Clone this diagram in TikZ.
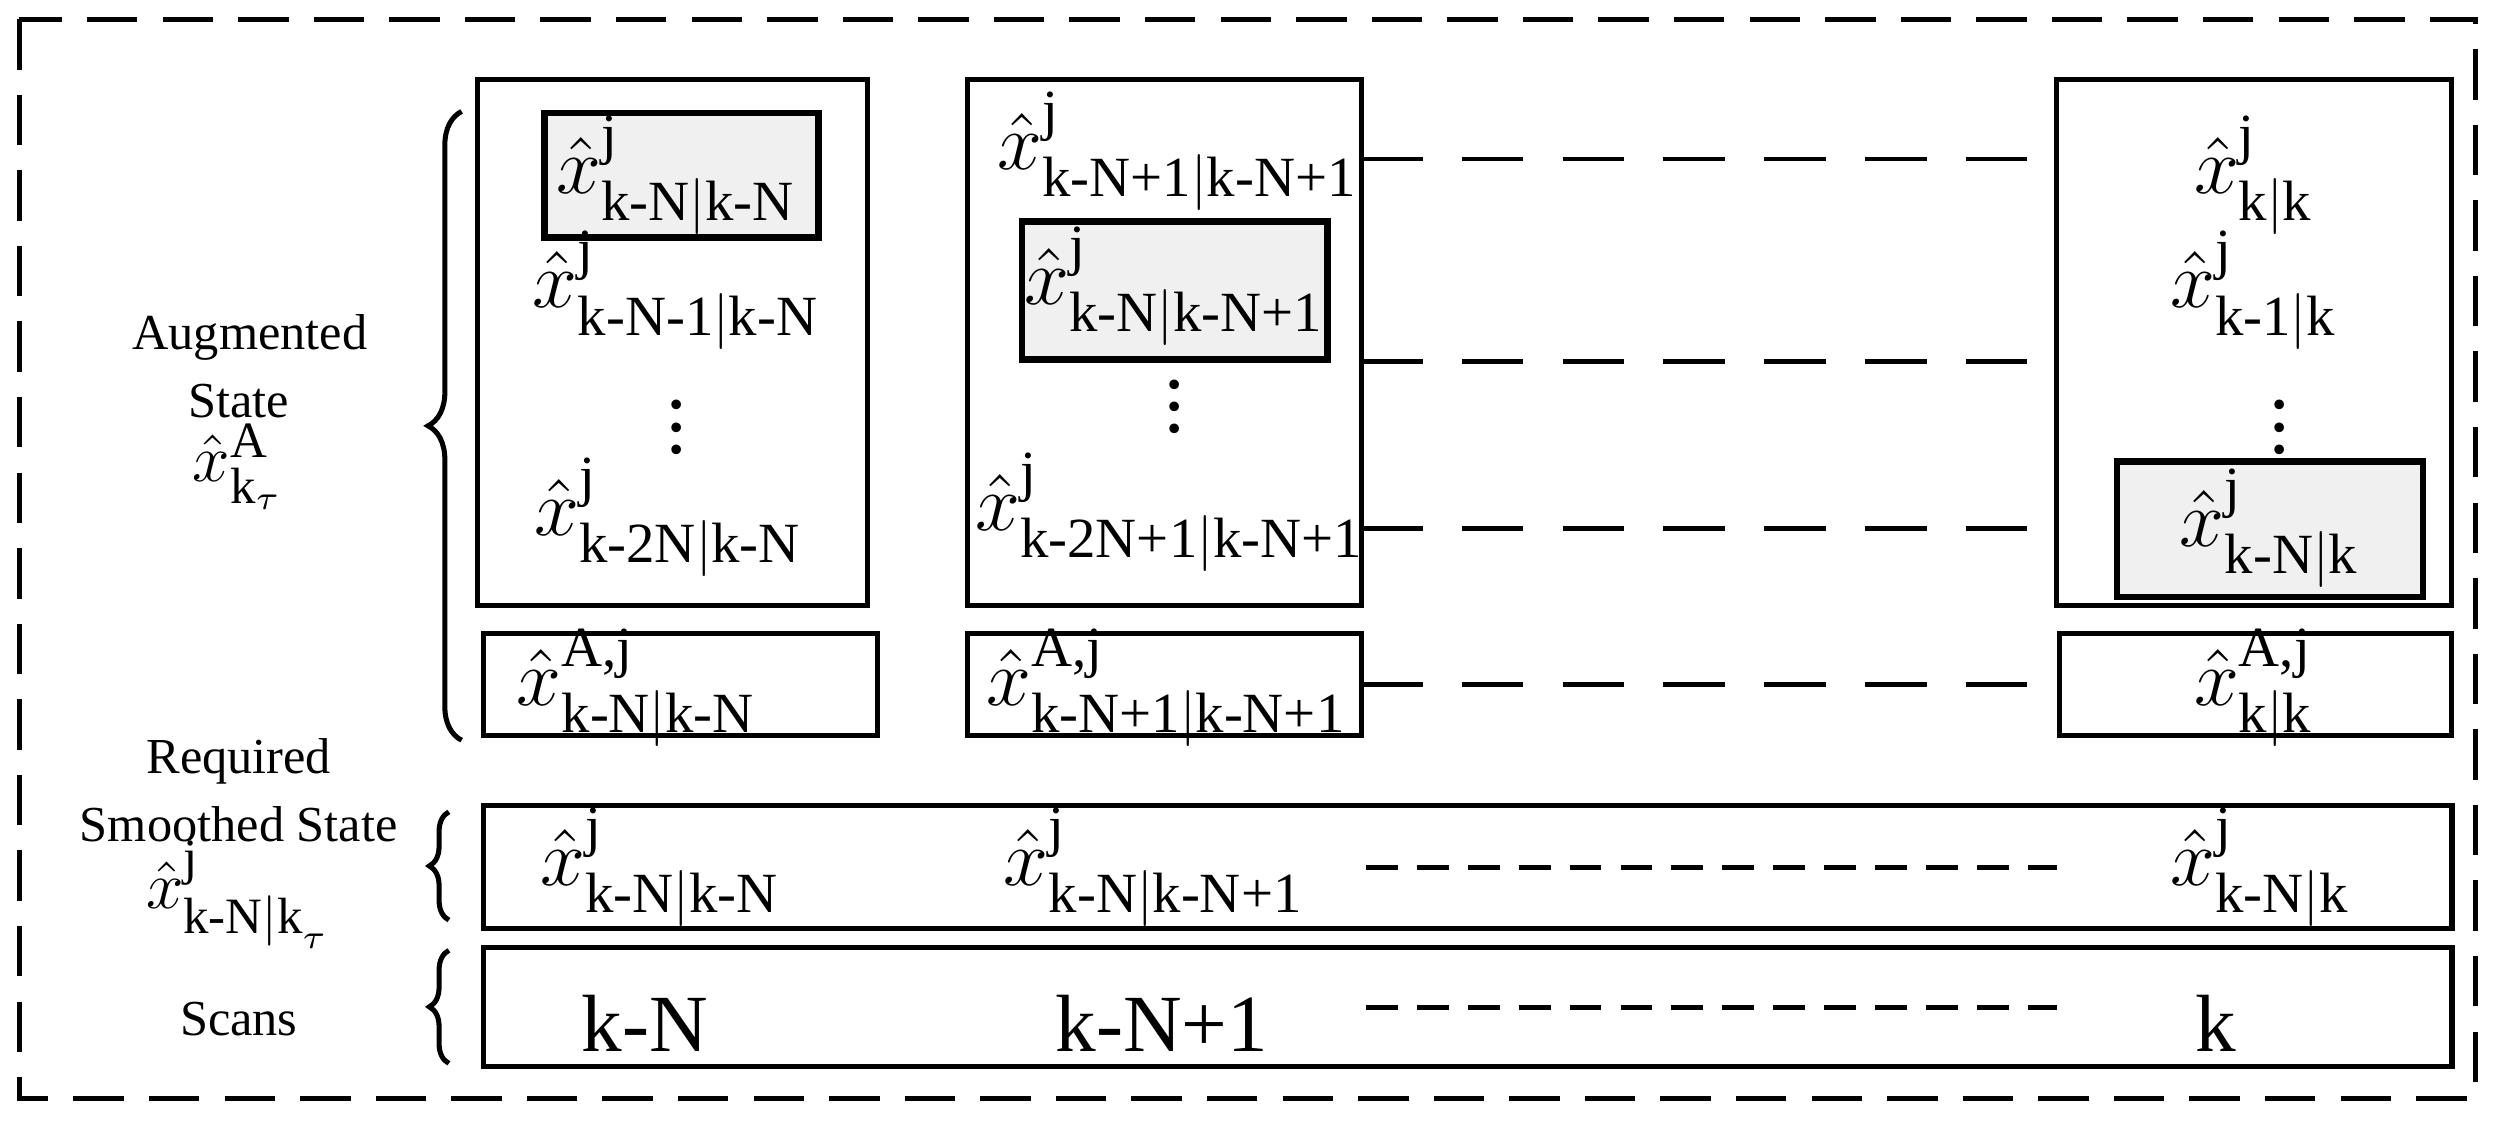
\documentclass[tikz,border=0pt]{standalone}
\usepackage{amsmath}
\usepackage{fontspec}
\setmainfont{Liberation Serif}
\usetikzlibrary{decorations.pathreplacing,patterns}
\newcommand{\xj}[2]{$\hat{x}^{\text{#1}}_{\text{#2}}$}
\begin{document}
\begin{tikzpicture}[x=0.01cm,y=-0.01cm,line width=0.9pt,
  every node/.style={font=\fontsize{14.5}{17}\selectfont},
  box/.style={draw,inner sep=0,outer sep=0},
  shd/.style={draw,inner sep=0,outer sep=0,fill=gray!12,line width=1.2pt},
  con/.style={dash pattern=on 11pt off 7pt,line width=0.8pt},
  con2/.style={dash pattern=on 5.7pt off 3.4pt,line width=0.8pt},
  lab/.style={font=\fontsize{9}{11}\selectfont},
  labm/.style={font=\fontsize{13}{15}\selectfont}]
\useasboundingbox (0,0) rectangle (1568,705);
\draw[dash pattern=on 9pt off 4.5pt] (12,12) rectangle (1555,690);
% big boxes
\node[box,minimum width=2.45cm,minimum height=3.3cm] (b1) at (422.5,215) {};
\node[box,minimum width=2.47cm,minimum height=3.3cm] (b2) at (731.5,215) {};
\node[box,minimum width=2.48cm,minimum height=3.3cm] (b3) at (1416,215) {};
\node[shd,minimum width=1.72cm,minimum height=0.78cm] (s1) at (428,110) {};
\node[shd,minimum width=1.92cm,minimum height=0.87cm] (s2) at (738,182.5) {};
\node[shd,minimum width=1.92cm,minimum height=0.85cm] (s3) at (1426,332.5) {};
\node (t11) at (425,110) {\xj{j}{k-N$|$k-N}};
\node (t12) at (425,182) {\xj{j}{k-N-1$|$k-N}};
\node (t13) at (425,258) {$\vdots$};
\node (t14) at (420,325) {\xj{j}{k-2N$|$k-N}};
\node (t21) at (740,95) {\xj{j}{k-N+1$|$k-N+1}};
\node (t22) at (738,180) {\xj{j}{k-N$|$k-N+1}};
\node (t23) at (738,245) {$\vdots$};
\node (t24) at (735,322) {\xj{j}{k-2N+1$|$k-N+1}};
\node (t31) at (1416,110) {\xj{j}{k$|$k}};
\node (t32) at (1416,182) {\xj{j}{k-1$|$k}};
\node (t33) at (1432,258) {$\vdots$};
\node (t34) at (1426,332) {\xj{j}{k-N$|$k}};
% A boxes
\node[box,minimum width=2.47cm,minimum height=0.64cm] (a1) at (427.5,430) {};
\node[box,minimum width=2.47cm,minimum height=0.64cm] (a2) at (731.5,430) {};
\node[box,minimum width=2.46cm,minimum height=0.64cm] (a3) at (1417,430) {};
\node at (400,432) {\xj{A,j}{k-N$|$k-N}};
\node at (733,432) {\xj{A,j}{k-N+1$|$k-N+1}};
\node at (1416,432) {\xj{A,j}{k$|$k}};
% rows
\node[box,minimum width=12.36cm,minimum height=0.77cm] (sm) at (922,544.5) {};
\node[box,minimum width=12.36cm,minimum height=0.75cm] (sc) at (922,632.5) {};
\node at (415,545) {\xj{j}{k-N$|$k-N}};
\node at (725,545) {\xj{j}{k-N$|$k-N+1}};
\node at (1420,545) {\xj{j}{k-N$|$k}};
\node[font=\fontsize{14.5}{17}\selectfont] (k1) at (405,643) {k-N};
\node[font=\fontsize{14.5}{17}\selectfont] (k2) at (730,643) {k-N+1};
\node[font=\fontsize{14.5}{17}\selectfont] (k3) at (1392,643) {k};
% connectors
\draw[con] (b2.east |- 0,100) -- (b3.west |- 0,100);
\draw[con] (b2.east |- 0,227) -- (b3.west |- 0,227);
\draw[con] (b2.east |- 0,332) -- (b3.west |- 0,332);
\draw[con] (a2.east) -- (a3.west);
\draw[con2] (858,545) -- (1292,545);
\draw[con2] (858,633) -- (1292,633);
% left labels
\node[lab] at (157,212) {Augmented};
\node[lab] at (150,252) {State};
\node[labm] at (150,293) {$\hat{x}^{\text{A}}_{\text{k}_\tau}$};
\node[lab] at (150,478) {Required};
\node[lab] at (150,518) {Smoothed State};
\node[labm] at (150,562) {$\hat{x}^{\text{j}}_{\text{k-N$|$k}_\tau}$};
\node[lab] at (150,640) {Scans};
\draw[decorate,decoration={brace,amplitude=6pt}] (290,465) -- (290,70);
\draw[decorate,decoration={brace,amplitude=3.5pt}] (282,578) -- (282,510);
\draw[decorate,decoration={brace,amplitude=3.5pt}] (282,668) -- (282,597);
\end{tikzpicture}
\end{document}
